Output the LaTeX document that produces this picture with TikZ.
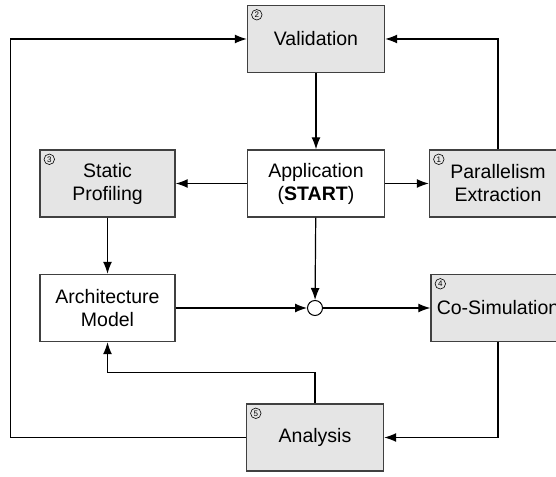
\documentclass[tikz,border=0pt]{standalone}
\usepackage{fontspec}
\setmainfont{Liberation Sans}
\usetikzlibrary{arrows.meta,positioning}

\begin{document}
\begin{tikzpicture}[
    x=1pt, y=1pt,
    font=\fontsize{19.5}{23}\selectfont,
    >={Latex[length=12pt,width=9pt]},
    line width=1.2pt,
    gbox/.style={draw=black!75, line width=1.4pt, fill=gray!20, minimum width=137pt, minimum height=67pt, inner sep=0pt, align=center},
    wbox/.style={draw=black!75, line width=1.4pt, fill=white, minimum width=137pt, minimum height=67pt, inner sep=0pt, align=center},
    joint/.style={draw, circle, fill=white, minimum size=15pt, inner sep=0pt, line width=1pt},
    badge/.style={draw, circle, minimum size=10.5pt, inner sep=0pt, line width=0.6pt, font=\fontsize{8}{8}\selectfont}
]
\useasboundingbox (0,0) rectangle (556,476);

\node[gbox] (val) at (316,437) {Validation};
\node[wbox] (app) at (316,292.5) {Application\\(\textbf{START})};
\node[gbox] (par) at (498,292.5) {Parallelism\\Extraction};
\node[gbox, minimum width=135pt] (stat) at (107.5,292.5) {Static\\Profiling};
\node[wbox, minimum width=135pt] (arch) at (107.5,168) {Architecture\\Model};
\node[joint] (sum) at (315,168) {};
\node[gbox, minimum width=134pt] (cosim) at (498,168) {Co-Simulation};
\node[gbox] (ana) at (315,38.5) {Analysis};

% step numbers
\node[badge] (n1) at ([shift={(10,-10)}]par.north west) {1};
\node[badge] (n2) at ([shift={(10,-10)}]val.north west) {2};
\node[badge] (n3) at ([shift={(10,-10)}]stat.north west) {3};
\node[badge] (n4) at ([shift={(10,-10)}]cosim.north west) {4};
\node[badge] (n5) at ([shift={(10,-10)}]ana.north west) {5};

\draw[->] (val) -- (app);
\draw[->] (app) -- (stat);
\draw[->] (app) -- (par);
\draw[->] (par.north) |- (val.east);
\draw[->] (stat) -- (arch);
\draw[->] (app) -- (sum);
\draw[->] (arch) -- (sum);
\draw[->] (sum) -- (cosim);
\draw[->] (cosim.south) |- (ana.east);
\draw[->] (ana.north) -- ++(0,31) -| (arch.south);
\draw[->] (ana.west) -- ++(-235.5,0) |- (val.west);
\end{tikzpicture}
\end{document}
